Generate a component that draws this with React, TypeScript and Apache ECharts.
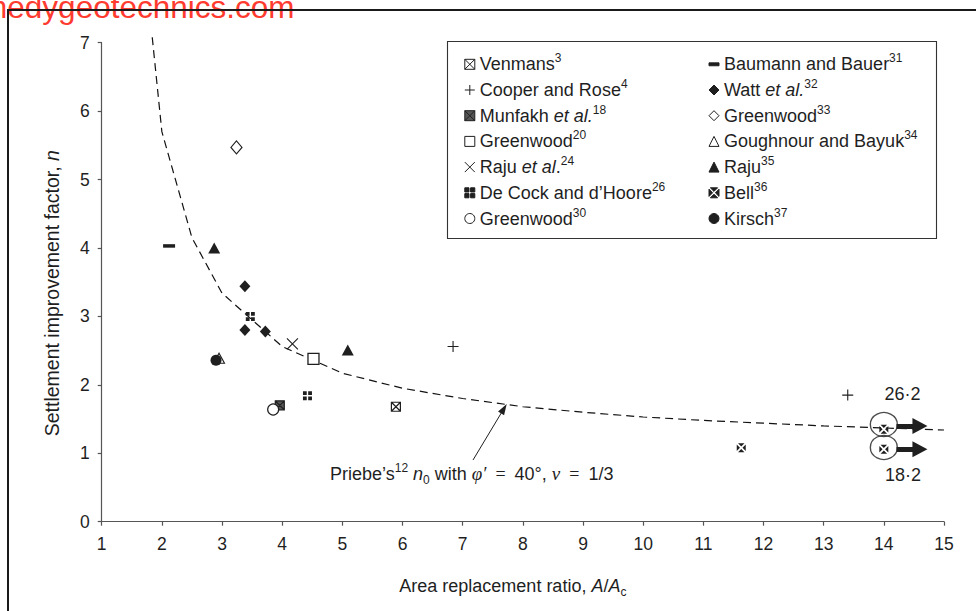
import React, { useEffect, useRef } from "react";
import * as echarts from "echarts";

const FONT = "'Liberation Sans', Arial, Helvetica, sans-serif";
const SERIF = "'Liberation Serif', 'DejaVu Serif', serif";
const INK = "#1f1f1f";

// Axis ranges
const xMin = 1;
const xMax = 15;
const xStep = 1;
const yMin = 0;
const yMax = 7;
const yStep = 1;

// Priebe's n0 curve (phi' = 40 deg, nu = 1/3)
const priebeRatio = [1.84, 2, 2.5, 3, 4, 5, 6, 7, 8, 9, 10, 11, 12, 13, 14, 15];
const priebeN = [7.08, 5.7, 4.15, 3.34, 2.56, 2.17, 1.95, 1.8, 1.68, 1.6, 1.53, 1.48, 1.44, 1.4, 1.37, 1.34];

// Case data [A/Ac, n]
const venmans = [[5.89, 1.68]];
const cooperRose = [[6.84, 2.56], [13.4, 1.85]];
const munfakh = [[3.96, 1.7]];
const greenwood20 = [[4.52, 2.38]];
const rajuEtAl = [[4.17, 2.6]];
const deCock = [[3.47, 3.0], [4.42, 1.84]];
const greenwood30 = [[3.85, 1.64]];
const baumann = [[2.12, 4.03]];
const watt = [[3.38, 3.44], [3.38, 2.8], [3.72, 2.78]];
const greenwood33 = [[3.24, 5.47]];
const goughnour = [[2.95, 2.39]];
const raju35 = [[2.87, 4.0], [5.09, 2.51]];
const bell = [[11.63, 1.08], [14.0, 1.35], [14.0, 1.06]];
const kirsch = [[2.9, 2.36]];

// Annotation anchors (data space)
const bellRings = [[14.0, 1.42], [14.0, 1.085]];
const noteLabels = ["26·2", "18·2"];
const notePos = [[14.31, 1.87], [14.32, 0.68]];
const priebeNotePos = [7.15, 0.7];
const priebeArrow = [[7.172, 0.902], [7.685, 1.652]];
const bellArrowTop = [[14.21, 1.4], [14.6, 1.4]];
const bellArrowBottom = [[14.21, 1.06], [14.6, 1.06]];

const SYM = {
  boxX: "path://M0,0L10,0L10,10L0,10ZM0,0L10,10M10,0L0,10",
  plus: "path://M5,0L5,10M0,5L10,5",
  cross: "path://M0,0L10,10M10,0L0,10",
  bell: "path://M1.4,0L8.6,0L5,3.6ZM10,1.4L10,8.6L6.4,5ZM8.6,10L1.4,10L5,6.4ZM0,8.6L0,1.4L3.6,5Z",
  grid4: "path://M0,0L4.2,0L4.2,4.2L0,4.2ZM5.8,0L10,0L10,4.2L5.8,4.2ZM0,5.8L4.2,5.8L4.2,10L0,10ZM5.8,5.8L10,5.8L10,10L5.8,10Z",
  dash: "path://M0,0L12,0L12,3.5L0,3.5Z",
};
const CLEAR = "rgba(0,0,0,0)";

const seriesDefs = [
  { name: "Venmans3", label: "{t|Venmans}{s|3}", data: venmans, symbol: SYM.boxX, size: 9, fill: "#fff", stroke: INK, bw: 1.2 },
  { name: "Cooper and Rose4", label: "{t|Cooper and Rose}{s|4}", data: cooperRose, symbol: SYM.plus, size: 11, fill: CLEAR, stroke: INK, bw: 1.1 },
  { name: "Munfakh et al.18", label: "{t|Munfakh }{i|et al.}{s|18}", data: munfakh, symbol: SYM.boxX, size: 9, fill: "#555", stroke: INK, bw: 1.2 },
  { name: "Greenwood20", label: "{t|Greenwood}{s|20}", data: greenwood20, symbol: "rect", size: 11, fill: "#fff", stroke: INK, bw: 1.3 },
  { name: "Raju et al.24", label: "{t|Raju }{i|et al}{t|.}{s|24}", data: rajuEtAl, symbol: SYM.cross, size: 11, fill: CLEAR, stroke: INK, bw: 1.1 },
  { name: "De Cock and d'Hoore26", label: "{t|De Cock and d’Hoore}{s|26}", data: deCock, symbol: SYM.grid4, size: 9, fill: INK, stroke: INK, bw: 0 },
  { name: "Greenwood30", label: "{t|Greenwood}{s|30}", data: greenwood30, symbol: "circle", size: 11, fill: "#fff", stroke: INK, bw: 1.2 },
  { name: "Baumann and Bauer31", label: "{t|Baumann and Bauer}{s|31}", data: baumann, symbol: "rect", size: [12, 3.5], fill: INK, stroke: INK, bw: 0, icon: SYM.dash },
  { name: "Watt et al.32", label: "{t|Watt }{i|et al.}{s|32}", data: watt, symbol: "diamond", size: [11, 12], fill: INK, stroke: INK, bw: 0 },
  { name: "Greenwood33", label: "{t|Greenwood}{s|33}", data: greenwood33, symbol: "diamond", size: [11, 13], fill: "#fff", stroke: INK, bw: 1.2 },
  { name: "Goughnour and Bayuk34", label: "{t|Goughnour and Bayuk}{s|34}", data: goughnour, symbol: "triangle", size: [11, 10], fill: "#fff", stroke: INK, bw: 1.1 },
  { name: "Raju35", label: "{t|Raju}{s|35}", data: raju35, symbol: "triangle", size: [12, 11], fill: INK, stroke: INK, bw: 0 },
  { name: "Bell36", label: "{t|Bell}{s|36}", data: bell, symbol: SYM.bell, size: 9, fill: INK, stroke: INK, bw: 0 },
  { name: "Kirsch37", label: "{t|Kirsch}{s|37}", data: kirsch, symbol: "circle", size: 11, fill: INK, stroke: INK, bw: 0 },
];

const labelMap: Record<string, string> = {};
seriesDefs.forEach((d) => (labelMap[d.name] = d.label));

function makeRich(size = 18) {
  return {
    t: { fontFamily: FONT, fontSize: size, lineHeight: 24, color: INK },
    i: { fontFamily: FONT, fontSize: size, lineHeight: 24, color: INK, fontStyle: "italic" },
    g: { fontFamily: SERIF, fontSize: size + 1, lineHeight: 24, color: INK, fontStyle: "italic" },
    r: { fontFamily: SERIF, fontSize: size, lineHeight: 24, color: INK },
    s: { fontFamily: FONT, fontSize: 12, lineHeight: 13, color: INK, verticalAlign: "top" },
    sub: { fontFamily: FONT, fontSize: 12, lineHeight: 13, color: INK, verticalAlign: "bottom" },
  };
}

function makeLegend(left: number, defs: typeof seriesDefs) {
  return {
    orient: "vertical",
    left,
    top: 52.3,
    padding: 0,
    itemWidth: 10,
    itemHeight: 10,
    itemGap: 4.7,
    itemTextGap: 7,
    selectedMode: false,
    formatter: (name: string) => labelMap[name] || name,
    textStyle: { fontFamily: FONT, fontSize: 18, color: INK, rich: makeRich() },
    itemStyle: { borderWidth: 1 },
    data: defs.map((d: any) => (d.icon ? { name: d.name, icon: d.icon } : { name: d.name })),
  };
}

function buildOption(): any {
  const markerSeries = seriesDefs.map((d) => ({
    type: "scatter",
    name: d.name,
    data: d.data,
    symbol: d.symbol,
    symbolSize: d.size,
    itemStyle: { color: d.fill, borderColor: d.stroke, borderWidth: d.bw, opacity: 1 },
    emphasis: { disabled: true },
    silent: true,
    z: 4,
  }));

  const priebeData = priebeRatio.map((r, i) => [r, priebeN[i]]);

  return {
    animation: false,
    backgroundColor: "#fff",
    textStyle: { fontFamily: FONT, color: INK },
    grid: { left: 101.7, right: 32, top: 42.7, bottom: 89.3, containLabel: false, outerBoundsMode: "none" },
    legend: [makeLegend(464.3, seriesDefs.slice(0, 7)), makeLegend(708.5, seriesDefs.slice(7))],
    xAxis: {
      type: "value",
      min: xMin,
      max: xMax,
      interval: xStep,
      splitLine: { show: false },
      axisLine: { lineStyle: { color: "#555", width: 1.2 } },
      axisTick: { length: 4, lineStyle: { color: "#555", width: 1.2 } },
      axisLabel: { margin: 13, fontSize: 17.5, color: INK, fontFamily: FONT },
      name: "{t|Area replacement ratio, }{i|A}{t|/}{i|A}{sub|c}",
      nameLocation: "middle",
      nameGap: 52,
      nameTextStyle: { color: INK, fontFamily: FONT, fontSize: 18, rich: makeRich(), padding: [0, 20, 0, 0] },
    },
    yAxis: {
      type: "value",
      min: yMin,
      max: yMax,
      interval: yStep,
      splitLine: { show: false },
      axisLine: { show: true, lineStyle: { color: "#555", width: 1.2 } },
      axisTick: { show: true, length: 4, lineStyle: { color: "#555", width: 1.2 } },
      axisLabel: { margin: 12, fontSize: 17.5, color: INK, fontFamily: FONT },
      name: "{t|Settlement improvement factor, }{i|n}",
      nameLocation: "middle",
      nameGap: 38,
      nameTextStyle: { color: INK, fontFamily: FONT, fontSize: 19.5, rich: makeRich(19.5), padding: [0, 22, 0, 0] },
    },
    graphic: [
      {
        type: "text",
        z: 1,
        silent: true,
        style: {
          text: "nedygeotechnics.com",
          x: -10.2,
          y: 6.5,
          fontSize: 31.5,
          fontFamily: FONT,
          fill: "#ff3b30",
          align: "left",
          verticalAlign: "middle",
        },
      },
      { type: "line", z: 5, silent: true, shape: { x1: 8, y1: 10, x2: 976, y2: 10 }, style: { stroke: "#1a1a1a", lineWidth: 2 } },
      { type: "line", z: 5, silent: true, shape: { x1: 8, y1: 9, x2: 8, y2: 611 }, style: { stroke: "#1a1a1a", lineWidth: 2 } },
      {
        type: "rect",
        z: 0,
        silent: true,
        shape: { x: 447.5, y: 41.5, width: 489, height: 197 },
        style: { fill: "none", stroke: "#333", lineWidth: 1.1 },
      },
    ],
    series: [
      {
        type: "line",
        name: "Priebe",
        data: priebeData,
        symbol: "none",
        showSymbol: false,
        clip: false,
        silent: true,
        lineStyle: { color: "#111", width: 1.2, type: [8, 5] },
        z: 2,
      },
      ...markerSeries,
      {
        type: "scatter",
        name: "rings",
        data: bellRings,
        symbol: "circle",
        symbolSize: [27, 24],
        itemStyle: { color: CLEAR, borderColor: INK, borderWidth: 1.3 },
        silent: true,
        z: 5,
      },
      {
        type: "scatter",
        name: "notes",
        symbolSize: 1,
        itemStyle: { color: CLEAR },
        silent: true,
        z: 6,
        label: { show: true, position: "inside", fontFamily: FONT, fontSize: 18, color: INK, opacity: 1, rich: makeRich() },
        data: [
          ...notePos.map((p, i) => ({
            value: p,
            label: { show: true, color: INK, formatter: "{t|" + noteLabels[i] + "}" },
          })),
          {
            value: priebeNotePos,
            label: {
              show: true,
              color: INK,
              formatter:
                "{t|Priebe’s}{s|12}{t| }{i|n}{sub|0}{t| with }{g|φ′}{r|\u2002=\u2002}{t|40°, }{g|ν}{r|\u2002=\u2002}{t|1/3}",
            },
          },
        ],
        markLine: {
          silent: true,
          animation: false,
          symbol: ["none", "triangle"],
          label: { show: false },
          emphasis: { disabled: true },
          lineStyle: { type: "solid", color: INK, width: 1 },
          data: [
            [
              { coord: priebeArrow[0], symbol: "none", lineStyle: { type: "solid", color: INK, width: 1 } },
              { coord: priebeArrow[1], symbol: "triangle", symbolSize: [7, 11] },
            ],
            [
              { coord: bellArrowTop[0], symbol: "none", lineStyle: { type: "solid", color: INK, width: 5 } },
              { coord: bellArrowTop[1], symbol: "triangle", symbolSize: [16, 15] },
            ],
            [
              { coord: bellArrowBottom[0], symbol: "none", lineStyle: { type: "solid", color: INK, width: 5 } },
              { coord: bellArrowBottom[1], symbol: "triangle", symbolSize: [16, 15] },
            ],
          ],
        },
      },
    ],
  };
}

export default function App() {
  const ref = useRef<HTMLDivElement>(null);
  useEffect(() => {
    if (!ref.current) return;
    const chart = echarts.init(ref.current, null, { renderer: "svg" });
    chart.setOption(buildOption());
    return () => chart.dispose();
  }, []);
  return (
    <div
      ref={ref}
      style={{ position: "absolute", left: 0, top: 0, width: 976, height: 611, background: "#fff" }}
    />
  );
}
